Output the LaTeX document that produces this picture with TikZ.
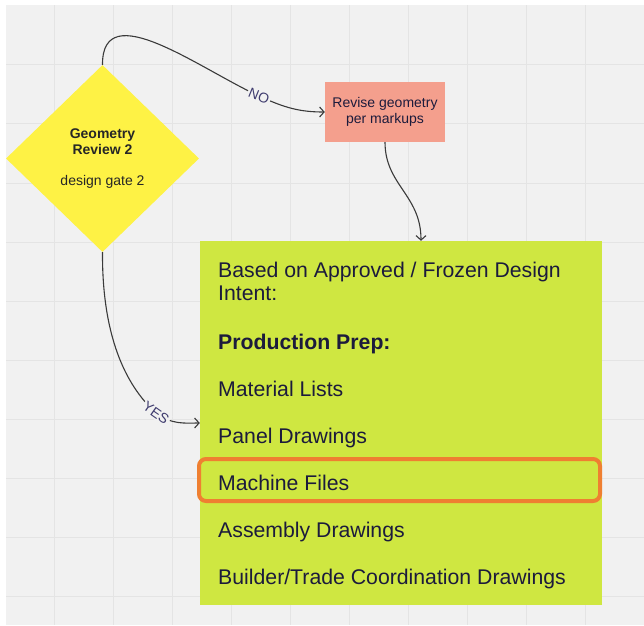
\documentclass[tikz,border=0pt]{standalone}
\usepackage{fontspec}
\setmainfont{Liberation Sans}
\usetikzlibrary{shapes.geometric,arrows.meta}

\definecolor{gridbg}{HTML}{F1F1F1}
\definecolor{gridline}{HTML}{E4E4E4}
\definecolor{gateyellow}{HTML}{FEF245}
\definecolor{revisesalmon}{HTML}{F49F8D}
\definecolor{prepgreen}{HTML}{CFE741}
\definecolor{markorange}{HTML}{EF7F31}
\definecolor{inknavy}{HTML}{1C1B3C}
\definecolor{flowgrey}{HTML}{3A3A3A}
\definecolor{labelnavy}{HTML}{3E3B6E}

\tikzset{
  gate/.style={diamond, fill=gateyellow, minimum width=193pt, minimum height=187pt,
    inner sep=0pt, align=center, text=black!85, font=\fontsize{14}{16}\selectfont},
  revisebox/.style={rectangle, fill=revisesalmon, minimum width=120pt, minimum height=60pt,
    inner sep=0pt, align=center, text=inknavy, font=\fontsize{14}{16}\selectfont},
  prepbox/.style={rectangle, fill=prepgreen, minimum width=402pt, minimum height=364pt, inner sep=0pt},
  item/.style={anchor=base west, inner sep=0pt, text=inknavy, font=\fontsize{21.25}{23}\selectfont},
  flow/.style={draw=flowgrey, line width=1.1pt, -{Straight Barb[length=4.5pt,width=10pt]}},
  flowlabel/.style={fill=gridbg, inner sep=1.5pt, text=labelnavy, font=\fontsize{14}{16}\selectfont},
}

\begin{document}
\begin{tikzpicture}[x=1pt, y=1pt]
    \useasboundingbox (0,0) rectangle (644,625);
    % board with grid
    \fill[white] (0,0) rectangle (644,625);
    \fill[gridbg] (6,0) rectangle (644,620);
    \foreach \i in {0,...,9}
        \draw[gridline, line width=1pt] ({54+59.1*\i},0) -- ({54+59.1*\i},620);
    \foreach \j in {0,...,9}
        \draw[gridline, line width=1pt] (6,{560-59*\j}) -- (644,{560-59*\j});

    \node[gate] (review) at (102.5,466.5) {\textbf{Geometry}\\\textbf{Review 2}\\[15pt]design gate 2};
    \node[revisebox] (revise) at (385,513) {Revise geometry\\per markups};
    \node[prepbox] (prep) at (401,202) {};

    \node[item] (based) at (218,348) {Based on Approved / Frozen Design};
    \node[item] (intent) at (218,325) {Intent:};
    \node[item, font=\fontsize{21.25}{23}\selectfont\bfseries] (heading) at (218,276) {Production Prep:};
    \node[item] (material) at (218,229) {Material Lists};
    \node[item] (panel) at (218,182) {Panel Drawings};
    \node[item] (machine) at (218,135) {Machine Files};
    \node[item] (assembly) at (218,88) {Assembly Drawings};
    \node[item] (builder) at (218,41) {Builder/Trade Coordination Drawings};

    % highlight round machine files
    \draw[markorange, line width=4pt, rounded corners=7pt] (199,124) rectangle (600,166);

    \draw[flow] (review.north) .. controls (102,630) and (200,556) .. (259,529)
        node[flowlabel, rotate=-22] {NO} .. controls (285,517) and (300,513) .. (revise.west);
    \draw[flow] (revise.south) .. controls (385,440) and (421,430) .. ([xshift=20pt]prep.north);
    \draw[flow] (review.south) .. controls (102,290) and (125,240) .. (156,212)
        node[flowlabel, rotate=-35] {YES} .. controls (172,200) and (185,202) .. (prep.west);
\end{tikzpicture}
\end{document}
